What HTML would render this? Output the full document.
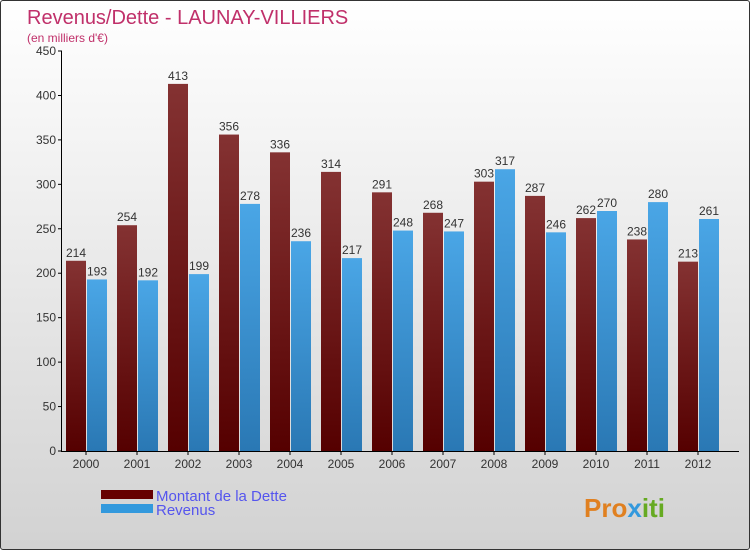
<!DOCTYPE html>
<html><head><meta charset="utf-8"><style>
body{margin:0}
#c{width:750px;height:550px;position:relative;overflow:hidden;box-sizing:border-box;border:1px solid #333;border-radius:3px;background:linear-gradient(#ffffff,#d2d2d2);font-family:"Liberation Sans",sans-serif}
</style></head><body>
<div id="c">
<svg id="s" width="750" height="550">
<defs>
<linearGradient id="gd" x1="0" y1="0" x2="0" y2="1"><stop offset="0" stop-color="#843232"/><stop offset="1" stop-color="#550000"/></linearGradient>
<linearGradient id="gr" x1="0" y1="0" x2="0" y2="1"><stop offset="0" stop-color="#4aa6e6"/><stop offset="1" stop-color="#2a78b4"/></linearGradient>
</defs>
<text x="26" y="23" font-size="20" fill="#c0306a">Revenus/Dette - LAUNAY-VILLIERS</text>
<text x="26" y="41" font-size="12" fill="#c0306a">(en milliers d'€)</text>
<g id="bars"></g>
<g id="axes"></g>
<rect x="100" y="489" width="52" height="9" fill="#660000"/>
<rect x="100" y="503" width="52" height="9" fill="#3399dd"/>
<text x="155" y="500" font-size="15" fill="#5555ee">Montant de la Dette</text>
<text x="155" y="514" font-size="15" fill="#5555ee">Revenus</text>
<text x="583" y="516" font-size="26" font-weight="bold" fill="#e08020">Pro<tspan fill="#3399dd">x</tspan><tspan fill="#66aa22">iti</tspan></text>
</svg></div>
<script>
const years=["2000","2001","2002","2003","2004","2005","2006","2007","2008","2009","2010","2011","2012"];
const dette=[214,254,413,356,336,314,291,268,303,287,262,238,213];
const revenus=[193,192,199,278,236,217,248,247,317,246,270,280,261];
const ticks=[0,50,100,150,200,250,300,350,400,450];
const NS="http://www.w3.org/2000/svg";
const y=v=>450-v*400/450;
const xc=i=>85+i*51;
function mk(t,a,p){const e=document.createElementNS(NS,t);for(const k in a)e.setAttribute(k,a[k]);p.appendChild(e);return e;}
const B=document.getElementById('bars'),A=document.getElementById('axes');
years.forEach((yr,i)=>{
 const d=mk('rect',{x:xc(i)-20,y:y(dette[i]),width:20,height:450-y(dette[i]),fill:'url(#gd)'},B);
 
 
 const r=mk('rect',{x:xc(i)+1,y:y(revenus[i]),width:20,height:450-y(revenus[i]),fill:'url(#gr)'},B);
 
 
 const t1=mk('text',{x:xc(i)-10,y:y(dette[i])-4,'font-size':12,fill:'#333','text-anchor':'middle'},B);t1.textContent=dette[i];
 
 
 const t2=mk('text',{x:xc(i)+11,y:y(revenus[i])-4,'font-size':12,fill:'#333','text-anchor':'middle'},B);t2.textContent=revenus[i];
 
 
 mk('line',{x1:xc(i),x2:xc(i),y1:450,y2:454,stroke:'#000'},A);
 const xl=mk('text',{x:xc(i),y:467,'font-size':12,fill:'#333','text-anchor':'middle'},A);xl.textContent=yr;
 
 
});
mk('line',{x1:60.5,x2:60.5,y1:50,y2:450,stroke:'#000'},A);
mk('line',{x1:60,x2:738,y1:450.5,y2:450.5,stroke:'#000'},A);
ticks.forEach(t=>{
 mk('line',{x1:57,x2:61,y1:y(t),y2:y(t),stroke:'#000'},A);
 const l=mk('text',{x:55,y:y(t)+4,'font-size':12,fill:'#333','text-anchor':'end'},A);l.textContent=t;
 
 
});
</script>
</body></html>
